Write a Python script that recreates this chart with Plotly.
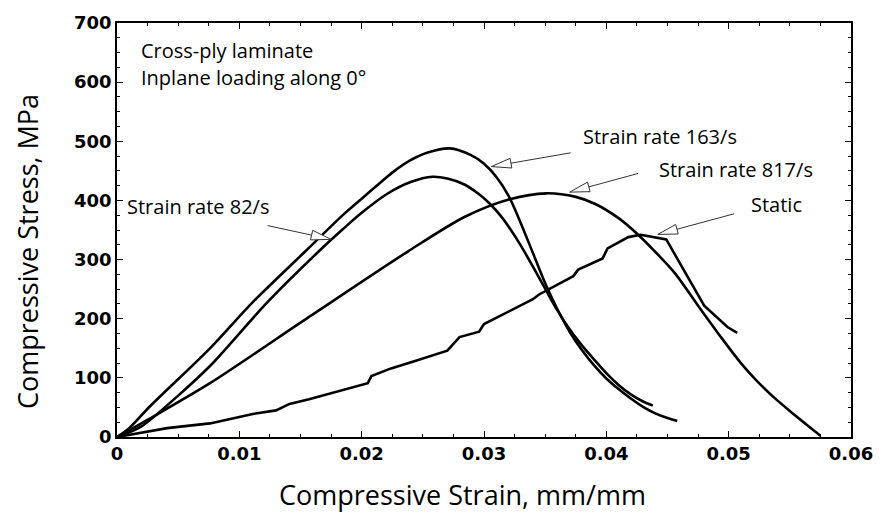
import math
import plotly.graph_objects as go

# ---- data ----
strain_163 = [0, 0.001, 0.0027, 0.0076, 0.0111, 0.0154, 0.0185, 0.0200, 0.0213, 0.0225, 0.0240,
              0.0254, 0.0272, 0.0289, 0.0300, 0.0310, 0.0320, 0.0330, 0.0340, 0.0350, 0.0360,
              0.0370, 0.0380, 0.0390, 0.0400, 0.0410, 0.0420, 0.0430, 0.0440, 0.0450, 0.0458]
stress_163 = [0, 15, 52, 150, 228, 314, 376, 403, 426, 447, 468,
              481, 488, 477, 462, 440, 408, 362, 311, 260, 216,
              178, 147, 121, 99, 81, 65, 51, 40, 32, 27]

strain_82 = [0, 0.002, 0.005, 0.0076, 0.0123, 0.0165, 0.0185, 0.0200, 0.0220, 0.0240, 0.0258,
             0.0270, 0.0284, 0.0295, 0.0305, 0.0314, 0.0322, 0.0330, 0.0340, 0.0351, 0.0360,
             0.0370, 0.0380, 0.0390, 0.0400, 0.0410, 0.0420, 0.0430, 0.0438]
stress_82 = [0, 18, 70, 120, 228, 314, 352, 379, 410, 431, 440,
             437, 427, 412, 394, 373, 350, 324, 288, 247, 214,
             182, 155, 131, 108, 88, 72, 60, 53]

strain_817 = [0, 0.003, 0.0076, 0.0157, 0.0238, 0.0284, 0.0321, 0.0351, 0.0375, 0.0391, 0.0410,
              0.0426, 0.0440, 0.0456, 0.0475, 0.0494, 0.0510, 0.0523, 0.0537, 0.0550, 0.0563, 0.0575]
stress_817 = [0, 35, 91, 203, 314, 372, 402, 412, 406, 394, 370,
              342, 313, 277, 222, 168, 125, 95, 67, 44, 22, 2]

strain_static = [0, 0.0041, 0.0076, 0.0111, 0.0130, 0.0141, 0.0157, 0.0181, 0.0205, 0.0208, 0.0224,
                 0.0243, 0.0270, 0.0280, 0.0296, 0.0300, 0.0340, 0.0345, 0.0373, 0.0377, 0.0397,
                 0.0401, 0.0418, 0.0428, 0.0449, 0.0480, 0.0499, 0.0507]
stress_static = [0, 15, 23, 39, 45, 56, 64, 78, 91, 103, 116,
                 128, 146, 169, 178, 191, 233, 241, 272, 283, 302,
                 319, 338, 342, 334, 222, 186, 176]

x_ticks = [0, 0.01, 0.02, 0.03, 0.04, 0.05, 0.06]
x_tick_labels = ["0", "0.01", "0.02", "0.03", "0.04", "0.05", "0.06"]
y_ticks = [0, 100, 200, 300, 400, 500, 600, 700]

series = [(strain_163, stress_163, "Strain rate 163/s", "spline"),
          (strain_82, stress_82, "Strain rate 82/s", "spline"),
          (strain_817, stress_817, "Strain rate 817/s", "spline"),
          (strain_static, stress_static, "Static", "linear")]

# ---- layout geometry ----
W, H = 885, 513
ML, MR, MT, MB = 117, 27, 16, 76
XR = [0, 0.06]
YR = [0, 700]
PW, PH = W - ML - MR, H - MT - MB


def px2x(px):
    return (px - ML) / PW * (XR[1] - XR[0]) + XR[0]


def py2y(py):
    return (MT + PH - py) / PH * (YR[1] - YR[0]) + YR[0]


fig = go.Figure()
for xs, ys, name, shp in series:
    line = dict(color="black", width=2.6, shape=shp)
    if shp == "spline":
        line["smoothing"] = 0.8
    fig.add_trace(go.Scatter(x=xs, y=ys, mode="lines", name=name, line=line))

label_font = dict(family="Open Sans, sans-serif", size=20, color="black")

# callouts: (text, text_x_px, text_y_px, tail_px, tip_px)
callouts = [
    ("Strain rate 163/s", 585, 131, (575, 148), (495, 162)),
    ("Strain rate 817/s", 662, 165, (643, 169), (574, 188)),
    ("Static", 755, 201, (740, 210), (663, 231)),
    ("Strain rate 82/s", 125, 203, (269, 222), (333, 236)),
]

shapes = []
annotations = []
for text, tx, ty, tail, tip in callouts:
    annotations.append(dict(text=text, x=px2x(tx), y=py2y(ty), xref="x", yref="y",
                            xanchor="left", yanchor="middle", showarrow=False, font=label_font))
    dx, dy = tip[0] - tail[0], tip[1] - tail[1]
    L = math.hypot(dx, dy)
    ux, uy = dx / L, dy / L
    hl, hw = 20, 5
    bx, by = tip[0] - ux * hl, tip[1] - uy * hl
    p1 = (bx - uy * hw, by + ux * hw)
    p2 = (bx + uy * hw, by - ux * hw)
    shapes.append(dict(type="line", xref="x", yref="y",
                       x0=px2x(tail[0]), y0=py2y(tail[1]), x1=px2x(bx), y1=py2y(by),
                       line=dict(color="#333", width=1)))
    path = "M {} {} L {} {} L {} {} Z".format(px2x(tip[0]), py2y(tip[1]),
                                              px2x(p1[0]), py2y(p1[1]),
                                              px2x(p2[0]), py2y(p2[1]))
    shapes.append(dict(type="path", xref="x", yref="y", path=path,
                       fillcolor="white", line=dict(color="#333", width=1)))

annotations.append(dict(text="Cross-ply laminate", x=px2x(139), y=py2y(44), xref="x", yref="y",
                        xanchor="left", yanchor="middle", showarrow=False, font=label_font))
annotations.append(dict(text="Inplane loading along 0°", x=px2x(139), y=py2y(71), xref="x", yref="y",
                        xanchor="left", yanchor="middle", showarrow=False, font=label_font))

title_font = dict(family="Open Sans, sans-serif", size=27, color="black")
# axis titles placed in plot-area paper coordinates (may extend beyond [0,1])
annotations.append(dict(text="Compressive Strain, mm/mm",
                        x=(466 - ML) / PW, y=(MT + PH - 495) / PH,
                        xref="paper", yref="paper", xanchor="center", yanchor="middle",
                        showarrow=False, font=title_font))
annotations.append(dict(text="Compressive Stress, MPa",
                        x=(26 - ML) / PW, y=(MT + PH - 248) / PH,
                        xref="paper", yref="paper", xanchor="center", yanchor="middle",
                        textangle=-90, showarrow=False, font=title_font))

tick_font = dict(family="DejaVu Sans, sans-serif", size=18, color="black", weight="bold")

fig.update_layout(
    width=W, height=H,
    margin=dict(l=ML, r=MR, t=MT, b=MB),
    paper_bgcolor="white", plot_bgcolor="white",
    showlegend=False,
    shapes=shapes, annotations=annotations,
    xaxis=dict(range=XR, tickvals=x_ticks, ticktext=x_tick_labels,
               showgrid=False, zeroline=False, showline=True, linecolor="black", linewidth=1.5,
               mirror="ticks", ticks="inside", ticklen=6, tickcolor="black",
               minor=dict(dtick=0.0025, ticks="inside", ticklen=3, tickcolor="black", showgrid=False),
               tickfont=tick_font),
    yaxis=dict(range=YR, tickvals=y_ticks,
               showgrid=False, zeroline=False, showline=True, linecolor="black", linewidth=1.5,
               mirror="ticks", ticks="inside", ticklen=6, tickcolor="black",
               minor=dict(dtick=25, ticks="inside", ticklen=3, tickcolor="black", showgrid=False),
               tickfont=tick_font),
)

fig.write_html("out.html")
